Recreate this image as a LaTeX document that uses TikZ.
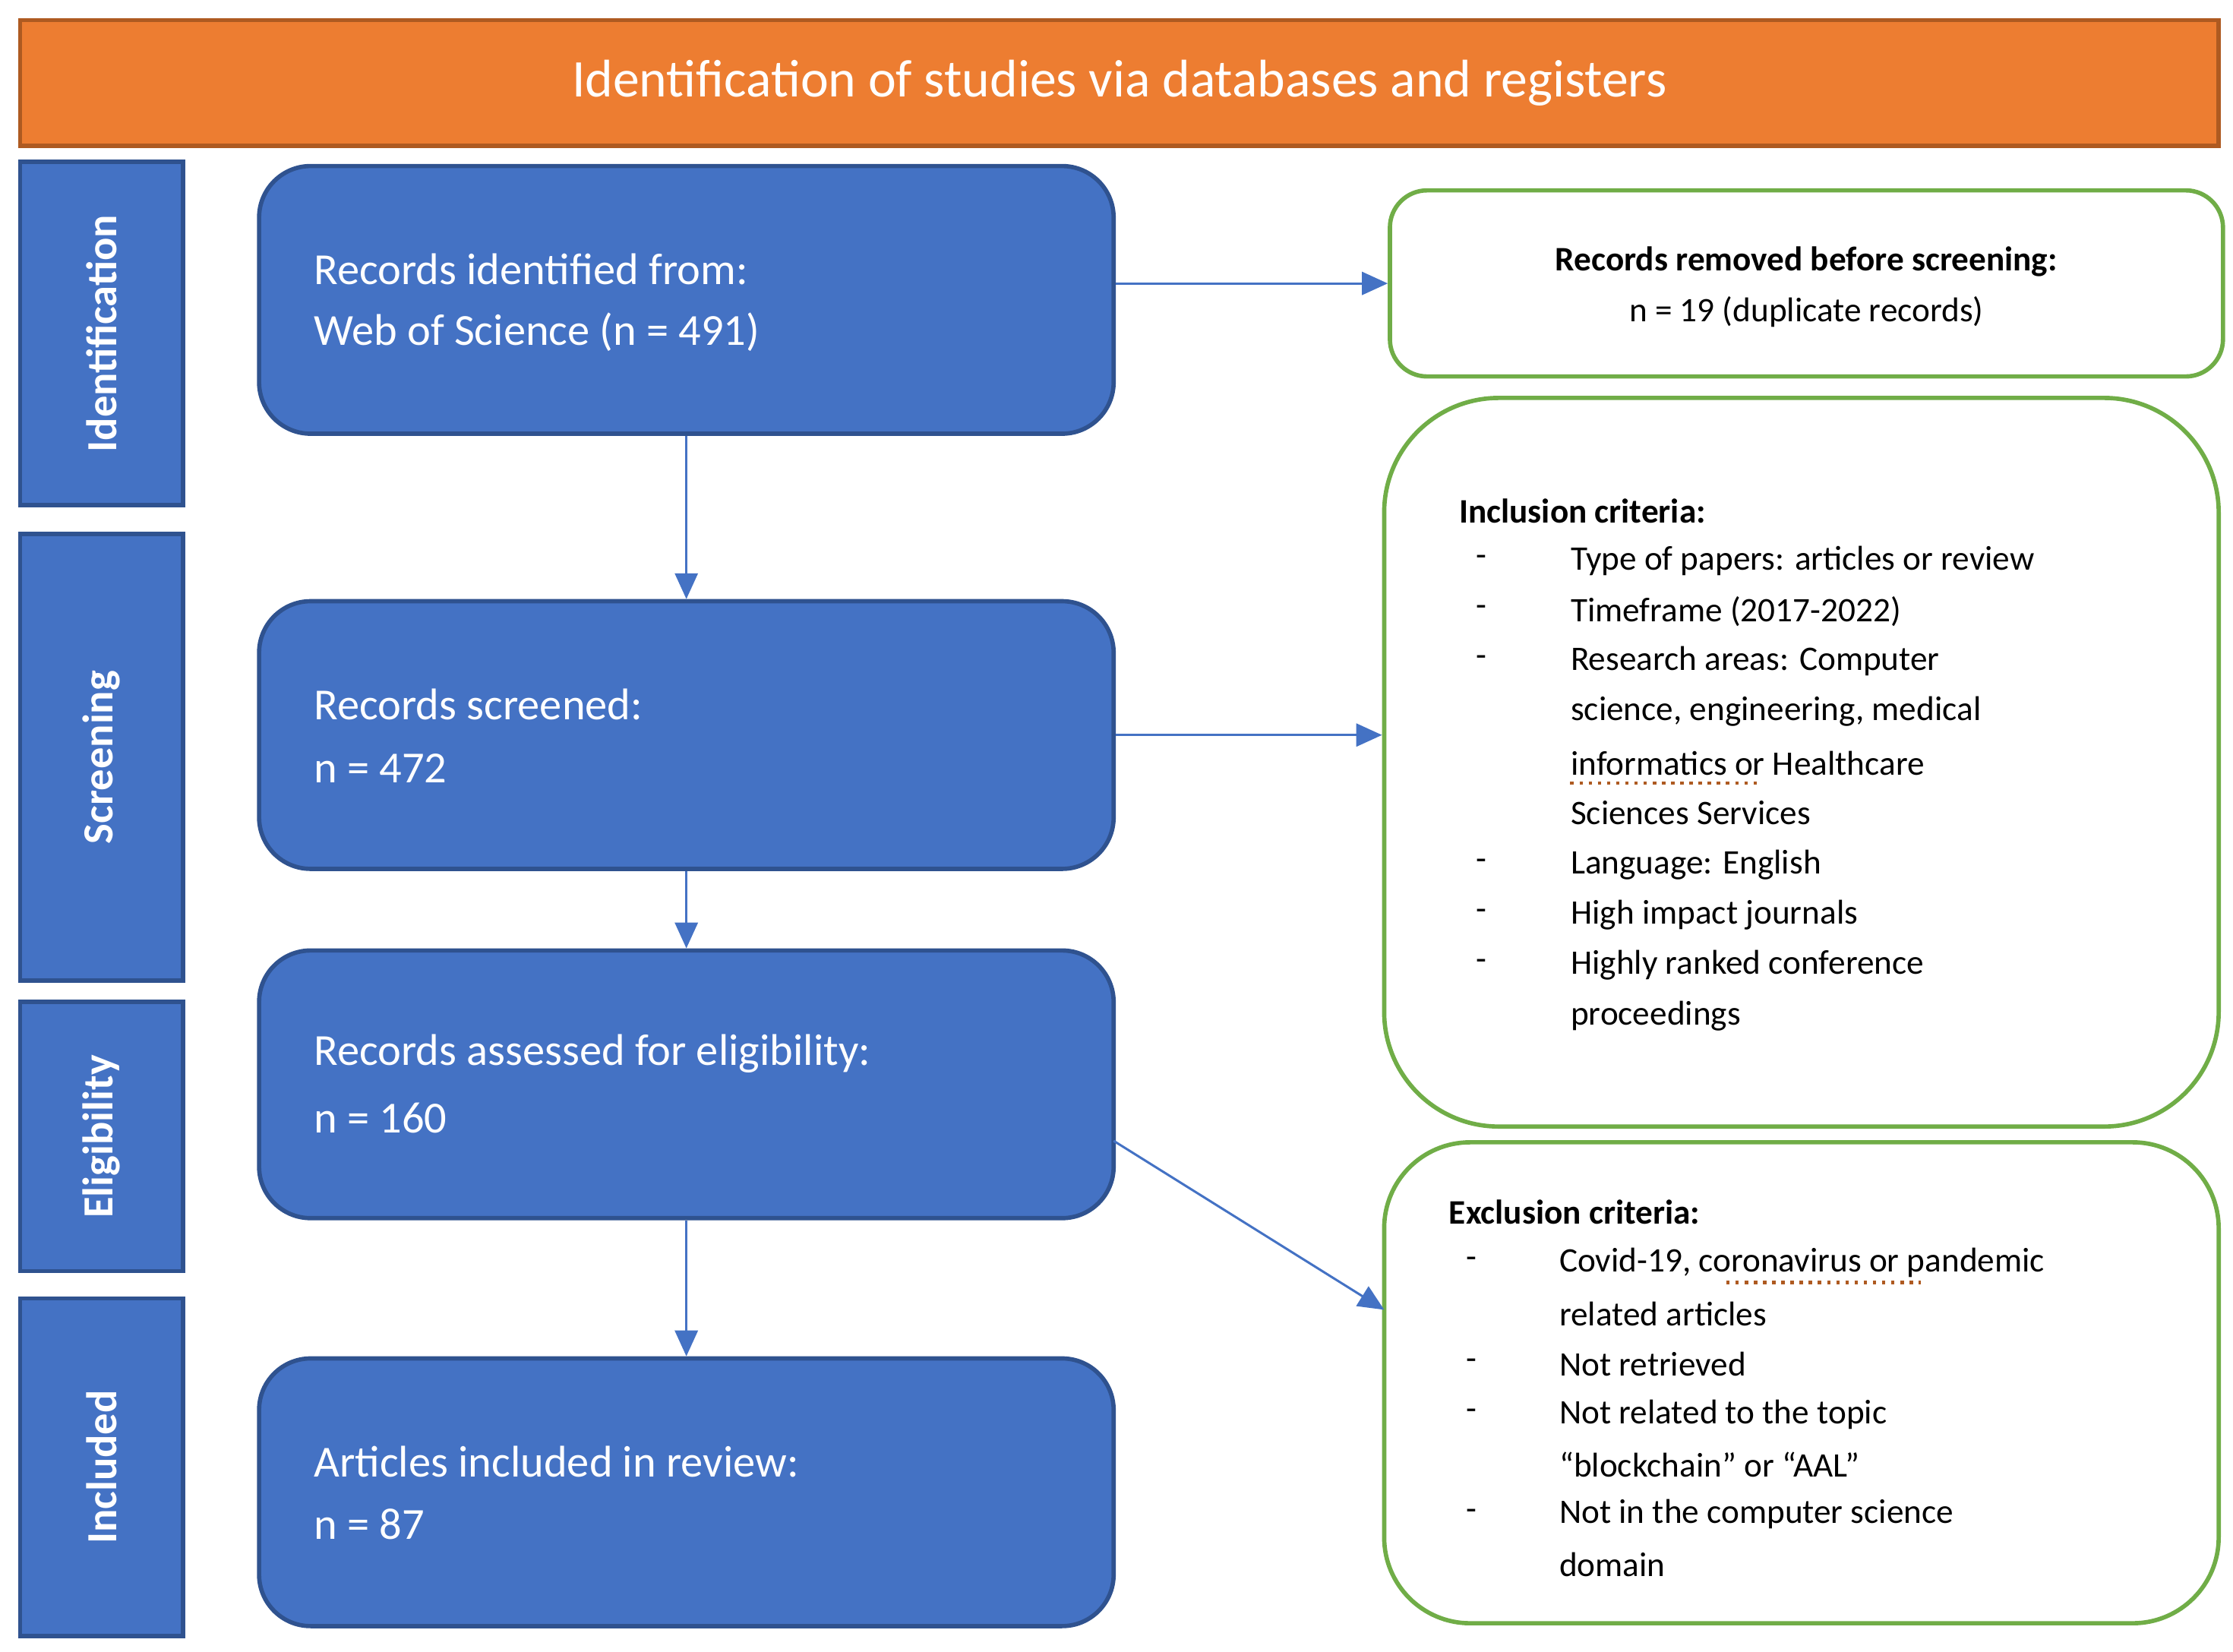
\documentclass[tikz,border=0pt]{standalone}
\usepackage{fontspec}
\setmainfont{Carlito}
\usetikzlibrary{arrows.meta}
\definecolor{org}{HTML}{ED7D31}
\definecolor{orgd}{HTML}{AE5A21}
\definecolor{blu}{HTML}{4472C4}
\definecolor{blud}{HTML}{2F528F}
\definecolor{grn}{HTML}{70AD47}
\begin{document}
\begin{tikzpicture}[x=0.5pt,y=-0.5pt,
 stage/.style={fill=blu,draw=blud,line width=1.5pt},
 main/.style={fill=blu,draw=blud,line width=1.5pt,rounded corners=18pt},
 side/.style={fill=white,draw=grn,line width=1.5pt},
 mt/.style={anchor=west,text=white,font=\fontsize{15.5}{18}\selectfont,inner sep=0pt},
 st/.style={text=white,font=\fontsize{15}{18}\selectfont\bfseries,rotate=90},
 rt/.style={anchor=west,font=\fontsize{12}{14}\selectfont,inner sep=0pt},
 arr/.style={draw=blu,line width=0.8pt,-{Triangle[length=9pt,width=8pt]}}]
\useasboundingbox (0,0) rectangle (1560,1154);
\fill[org,draw=orgd,line width=1.5pt] (14,14) rectangle (1550,102);
\node[text=white,font=\fontsize{18.5}{22}\selectfont] (hd) at (782,58) {Identification of studies via databases and registers};
% stages
\draw[stage] (14,113) rectangle (128,353); \node[st] (s1) at (71,233) {Identification};
\draw[stage] (14,373) rectangle (128,685); \node[st] (s2) at (71,529) {Screening};
\draw[stage] (14,700) rectangle (128,888); \node[st] (s3) at (71,794) {Eligibility};
\draw[stage] (14,907) rectangle (128,1143); \node[st] (s4) at (71,1025) {Included};
% main boxes
\node[main,minimum width=298.5pt,minimum height=93.5pt] (b1) at (479.5,209.5) {};
\node[main,minimum width=298.5pt,minimum height=93.5pt] (b2) at (479.5,513.5) {};
\node[main,minimum width=298.5pt,minimum height=93.5pt] (b3) at (479.5,757.5) {};
\node[main,minimum width=298.5pt,minimum height=93.5pt] (b4) at (479.5,1042.5) {};
\node[mt] (t1a) at (219,188) {Records identified from:};
\node[mt] (t1b) at (219,232) {Web of Science (n = 491)};
\node[mt] (t2a) at (219,492) {Records screened:};
\node[mt] (t2b) at (219,537) {n = 472};
\node[mt] (t3a) at (219,736) {Records assessed for eligibility:};
\node[mt] (t3b) at (219,781) {n = 160};
\node[mt] (t4a) at (219,1021) {Articles included in review:};
\node[mt] (t4b) at (219,1065) {n = 87};
% side boxes
\node[side,rounded corners=13pt,minimum width=291pt,minimum height=65pt] (r1) at (1262,198) {};
\node[rt,anchor=center,font=\fontsize{12}{14}\selectfont\bfseries] (r1a) at (1262,183) {Records removed before screening:};
\node[rt,anchor=center] (r1b) at (1262,218) {n = 19 (duplicate records)};
\node[side,rounded corners=40pt,minimum width=291.5pt,minimum height=254.5pt] (r2) at (1258.5,532.5) {};
\node[side,rounded corners=30pt,minimum width=291.5pt,minimum height=168pt] (r3) at (1258.5,966) {};
\node[rt,font=\fontsize{12}{14}\selectfont\bfseries] (i0) at (1019,357) {Inclusion criteria:};
\foreach \y/\t/\d [count=\i] in {392/Type of papers: articles or review/1,427/Timeframe (2017-2022)/1,462/Research areas: Computer/1,497/{science, engineering, medical}/0,533/informatics or Healthcare/0,568/Sciences Services/0,604/Language: English/1,639/High impact journals/1,674/Highly ranked conference/1,710/proceedings/0}{
 \node[rt] (in\i) at (1097,\y) {\t};
 \ifnum\d=1 \node[rt] (id\i) at (1031,\y) {-};\fi}
\draw[orgd,dotted,line width=1.2pt] (1097,547) -- (1228,547);
\node[rt,font=\fontsize{12}{14}\selectfont\bfseries] (e0) at (1012,847) {Exclusion criteria:};
\foreach \y/\t/\d [count=\i] in {882/{Covid-19, coronavirus or pandemic}/1,918/related articles/0,953/Not retrieved/1,988/Not related to the topic/1,1023/“blockchain” or “AAL”/0,1058/Not in the computer science/1,1093/domain/0}{
 \node[rt] (ex\i) at (1089,\y) {\t};
 \ifnum\d=1 \node[rt] (ed\i) at (1024,\y) {-};\fi}
\draw[orgd,dotted,line width=1.2pt] (1206,896) -- (1342,896);
% arrows
\draw[arr] (b1.east |- 0,198) -- (r1.west |- 0,198);
\draw[arr] (b1) -- (b2);
\draw[arr] (b2.east) -- (r2.west |- b2.east);
\draw[arr] (b2) -- (b3);
\draw[arr] (b3) -- (b4);
\coordinate (e1) at (778,797);
\coordinate (e2) at (967,915);
\draw[arr] (e1) -- (e2);
\end{tikzpicture}
\end{document}
